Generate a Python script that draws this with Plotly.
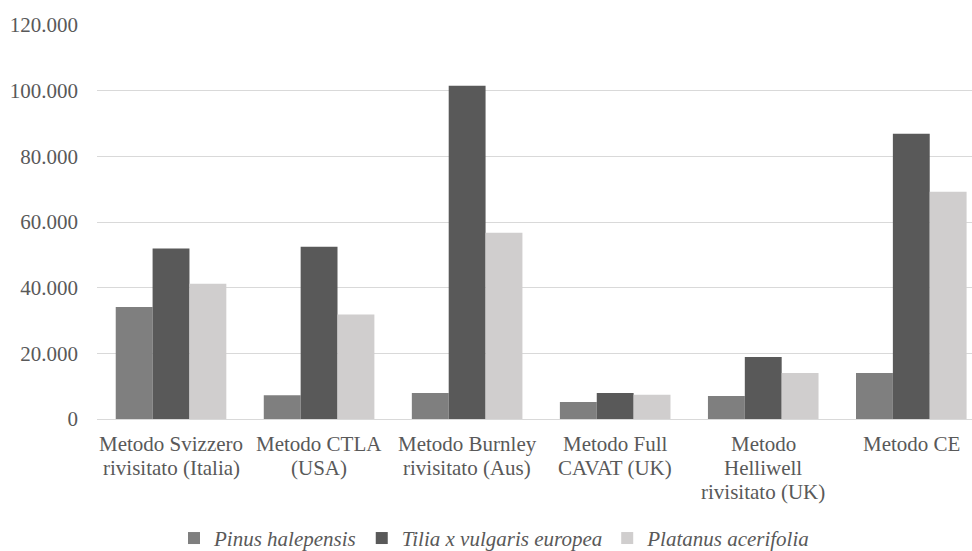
import plotly.graph_objects as go

# Valuation methods (x categories), one line per label row
categories = [
    "Metodo Svizzero<br>rivisitato (Italia)",
    "Metodo CTLA<br>(USA)",
    "Metodo Burnley<br>rivisitato (Aus)",
    "Metodo Full<br>CAVAT (UK)",
    "Metodo<br>Helliwell<br>rivisitato (UK)",
    "Metodo CE",
]

series_names = ["Pinus halepensis", "Tilia x vulgaris europea", "Platanus acerifolia"]
pinus = [34100, 7200, 7900, 5200, 7000, 14000]
tilia = [51900, 52500, 101500, 7900, 18900, 86900]
platanus = [41200, 31800, 56700, 7400, 14000, 69200]

y_ticks = [0, 20000, 40000, 60000, 80000, 100000, 120000]

colors = ["#7f7f7f", "#595959", "#d0cece"]
text_color = "#595959"
font_family = "Liberation Serif"

x_pos = list(range(len(categories)))

fig = go.Figure()
for name, vals, col in zip(series_names, [pinus, tilia, platanus], colors):
    fig.add_trace(go.Bar(
        x=x_pos, y=vals, name=name,
        marker=dict(color=col, line=dict(width=0)),
    ))

# Category labels below the axis, one annotation per text row
line_step = 24.3
first_shift = -10.5
for i, label in enumerate(categories):
    for j, row in enumerate(label.split("<br>")):
        fig.add_annotation(
            x=i, y=0, xref="x", yref="y",
            text=row, showarrow=False,
            xanchor="center", yanchor="top",
            yshift=first_shift - j * line_step,
            font=dict(family=font_family, size=21, color=text_color),
        )

fig.update_layout(
    width=972, height=551,
    margin=dict(l=97, r=0, t=25, b=132, pad=0, autoexpand=False),
    paper_bgcolor="white", plot_bgcolor="white",
    barmode="group", bargap=0.253, bargroupgap=0,
    separators=",.",
    font=dict(family=font_family, size=21, color=text_color),
    showlegend=True,
    legend=dict(
        orientation="h", x=0.088, xanchor="left", y=-0.303, yanchor="middle",
        font=dict(family=font_family, size=21, color=text_color, style="italic"),
        bgcolor="rgba(0,0,0,0)", traceorder="normal",
        borderwidth=0, itemsizing="constant",
    ),
    xaxis=dict(
        range=[-0.5, 5.41], showticklabels=False, showgrid=False,
        zeroline=False, showline=False, ticks="",
    ),
    yaxis=dict(
        range=[0, 120000], tickvals=y_ticks, tickformat=",d",
        showgrid=True, gridcolor="#d9d9d9", gridwidth=1,
        zeroline=True, zerolinecolor="#d9d9d9", zerolinewidth=1,
        showline=False, ticks="", ticklabelstandoff=18,
        tickfont=dict(family=font_family, size=21, color=text_color),
    ),
)

fig.write_html("out.html")
